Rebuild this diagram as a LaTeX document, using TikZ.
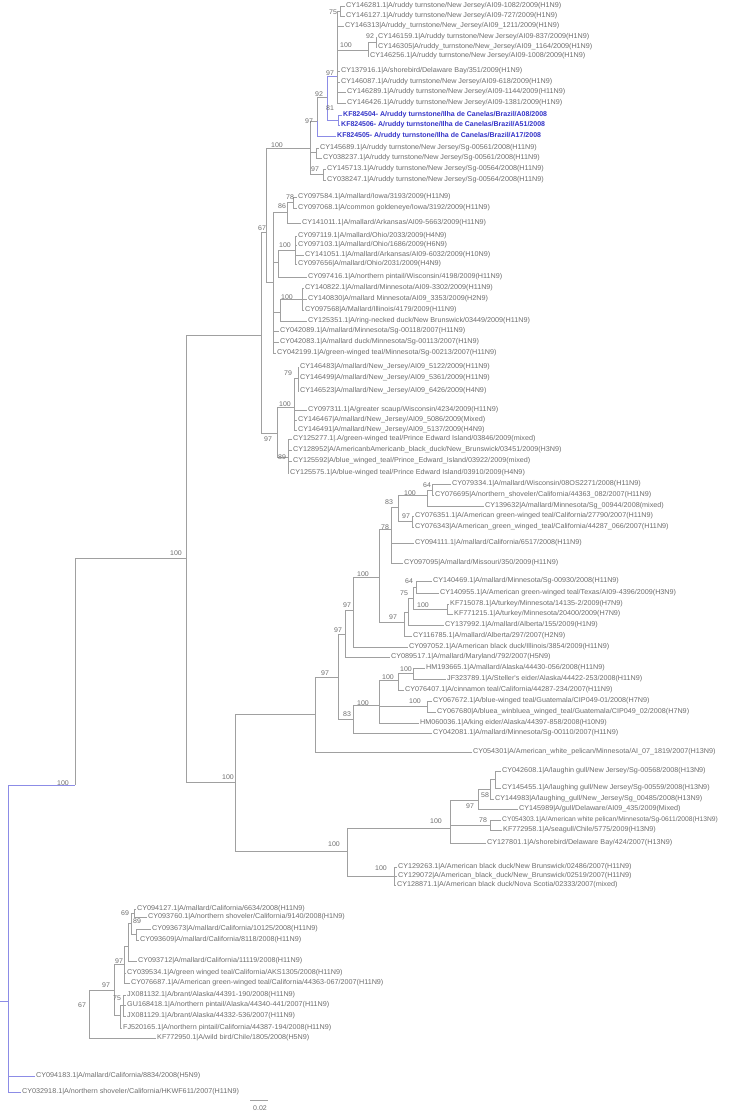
\documentclass[tikz,border=0pt]{standalone}
\usepackage{fontspec}
\setmainfont{Liberation Sans}
\newfontfamily\widesans[FakeStretch=1.03]{Liberation Sans}
\definecolor{brc}{HTML}{A0A0A0}
\definecolor{blc}{HTML}{8C8CE6}
\definecolor{txc}{HTML}{6E6E6E}
\definecolor{bluetxt}{HTML}{3434C8}
\begin{document}
\begin{tikzpicture}[x=1pt,y=-1pt,
  br/.style={draw=brc, line width=0.8pt},
  bb/.style={draw=blc, line width=0.8pt},
  leaf/.style={anchor=west, inner sep=0pt, text=txc, font=\widesans\fontsize{7.0}{8}\selectfont},
  nleaf/.style={anchor=west, inner sep=0pt, text=txc, font=\fontsize{6.7}{8}\selectfont},
  bleaf/.style={anchor=west, inner sep=0pt, text=bluetxt, font=\fontsize{7.0}{8}\selectfont\bfseries},
  bs/.style={inner sep=0pt, text=txc, font=\widesans\fontsize{6.8}{8}\selectfont}]
\useasboundingbox (0,0) rectangle (731,1115);
\fill[white] (0,0) rectangle (731,1115);
% internal nodes
\coordinate (rs) at (0,1001);
\coordinate (root) at (8,1001);
\coordinate (B) at (75,785);
\coordinate (C) at (186,558);
\coordinate (D) at (261,335);
\coordinate (E) at (235,782);
\coordinate (F) at (266,232);
\coordinate (T100) at (310,148);
\coordinate (N97a) at (317,121);
\coordinate (N92) at (327,97);
\coordinate (N97b) at (337,76);
\coordinate (n75) at (340,11);
\coordinate (n100t) at (368,50);
\coordinate (n92b) at (376,42);
\coordinate (N81) at (338,120);
\coordinate (P) at (316,152);
\coordinate (N97c) at (323,174);
\coordinate (G) at (273,282);
\coordinate (n86) at (287,212);
\coordinate (n78a) at (293,202);
\coordinate (H) at (278,262);
\coordinate (nOhio) at (295,250);
\coordinate (n280) at (280,312);
\coordinate (n100m) at (302,299);
\coordinate (n97j) at (277,433);
\coordinate (n100b) at (294,407);
\coordinate (n79) at (298,378);
\coordinate (n89) at (288,457);
\coordinate (M) at (315,714);
\coordinate (Q) at (338,677);
\coordinate (n97k) at (345,634);
\coordinate (n97l) at (353,610);
\coordinate (n100n) at (379,577);
\coordinate (n78b) at (391,529);
\coordinate (n83b) at (398,507);
\coordinate (n100c) at (427,495);
\coordinate (n64a) at (432,490);
\coordinate (n97f) at (412,521);
\coordinate (n404) at (404,622);
\coordinate (n408) at (408,612);
\coordinate (n75m) at (413,598);
\coordinate (n64b) at (416,587);
\coordinate (n100d) at (447,609);
\coordinate (n83) at (353,719);
\coordinate (n379) at (379,705);
\coordinate (n100h) at (398,680);
\coordinate (n100i) at (413,673);
\coordinate (n100j) at (427,706);
\coordinate (n100g) at (347,851);
\coordinate (n100k) at (450,828);
\coordinate (n97g) at (478,800);
\coordinate (n58) at (490,789);
\coordinate (npair) at (495,779);
\coordinate (n78c) at (490,825);
\coordinate (n100l) at (394,876);
\coordinate (n67) at (89,1013);
\coordinate (n97h) at (114,990);
\coordinate (n97i) at (124,964);
\coordinate (ntop) at (128,946);
\coordinate (n69) at (131,923);
\coordinate (n89b) at (134,913);
\coordinate (n137) at (136,934);
\coordinate (n75b) at (120,1015);
\coordinate (n75c) at (123,1005);
% leaves: ruddy turnstone clade
\node[leaf] (t1) at (346,6) {CY146281.1|A/ruddy turnstone/New Jersey/AI09-1082/2009(H1N9)};
\node[leaf] (t2) at (346,16) {CY146127.1|A/ruddy turnstone/New Jersey/AI09-727/2009(H1N9)};
\node[leaf] (t3) at (345,26) {CY146313|A/ruddy\_turnstone/New\_Jersey/AI09\_1211/2009(H1N9)};
\node[leaf] (t4) at (378,37) {CY146159.1|A/ruddy turnstone/New Jersey/AI09-837/2009(H1N9)};
\node[leaf] (t5) at (378,47) {CY146305|A/ruddy\_turnstone/New\_Jersey/AI09\_1164/2009(H1N9)};
\node[leaf] (t6) at (370,56) {CY146256.1|A/ruddy turnstone/New Jersey/AI09-1008/2009(H1N9)};
\node[leaf] (t7) at (341,71) {CY137916.1|A/shorebird/Delaware Bay/351/2009(H1N9)};
\node[leaf] (t8) at (341,82) {CY146087.1|A/ruddy turnstone/New Jersey/AI09-618/2009(H1N9)};
\node[leaf] (t9) at (347,92) {CY146289.1|A/ruddy turnstone/New Jersey/AI09-1144/2009(H11N9)};
\node[leaf] (t10) at (347,103) {CY146426.1|A/ruddy turnstone/New Jersey/AI09-1381/2009(H1N9)};
\node[bleaf] (t11) at (343,115) {KF824504- A/ruddy turnstone/Ilha de Canelas/Brazil/A08/2008};
\node[bleaf] (t12) at (341,125) {KF824506- A/ruddy turnstone/Ilha de Canelas/Brazil/A51/2008};
\node[bleaf] (t13) at (337,136) {KF824505- A/ruddy turnstone/Ilha de Canelas/Brazil/A17/2008};
\node[leaf] (t14) at (320,148) {CY145689.1|A/ruddy turnstone/New Jersey/Sg-00561/2008(H11N9)};
\node[leaf] (t15) at (323,158) {CY038237.1|A/ruddy turnstone/New Jersey/Sg-00561/2008(H11N9)};
\node[leaf] (t16) at (327,169) {CY145713.1|A/ruddy turnstone/New Jersey/Sg-00564/2008(H11N9)};
\node[leaf] (t17) at (327,180) {CY038247.1|A/ruddy turnstone/New Jersey/Sg-00564/2008(H11N9)};
% G group
\node[leaf] (g1) at (298,197) {CY097584.1|A/mallard/Iowa/3193/2009(H11N9)};
\node[leaf] (g2) at (298,208) {CY097068.1|A/common goldeneye/Iowa/3192/2009(H11N9)};
\node[leaf] (g3) at (302,223) {CY141011.1|A/mallard/Arkansas/AI09-5663/2009(H11N9)};
\node[leaf] (g4) at (298,236) {CY097119.1|A/mallard/Ohio/2033/2009(H4N9)};
\node[leaf] (g5) at (298,245) {CY097103.1|A/mallard/Ohio/1686/2009(H6N9)};
\node[leaf] (g6) at (305,255) {CY141051.1|A/mallard/Arkansas/AI09-6032/2009(H10N9)};
\node[leaf] (g7) at (298,264) {CY097656|A/mallard/Ohio/2031/2009(H4N9)};
\node[leaf] (g8) at (308,277) {CY097416.1|A/northern pintail/Wisconsin/4198/2009(H11N9)};
\node[leaf] (g9) at (305,288) {CY140822.1|A/mallard/Minnesota/AI09-3302/2009(H11N9)};
\node[leaf] (g10) at (308,299) {CY140830|A/mallard Minnesota/AI09\_3353/2009(H2N9)};
\node[leaf] (g11) at (305,310) {CY097568|A/Mallard/Illinois/4179/2009(H11N9)};
\node[leaf] (g12) at (308,321) {CY125351.1|A/ring-necked duck/New Brunswick/03449/2009(H11N9)};
\node[leaf] (g13) at (280,331) {CY042089.1|A/mallard/Minnesota/Sg-00118/2007(H11N9)};
\node[leaf] (g14) at (280,342) {CY042083.1|A/mallard duck/Minnesota/Sg-00113/2007(H1N9)};
\node[leaf] (g15) at (277,353) {CY042199.1|A/green-winged teal/Minnesota/Sg-00213/2007(H11N9)};
% NJ group
\node[leaf] (j1) at (300,367) {CY146483|A/mallard/New\_Jersey/AI09\_5122/2009(H11N9)};
\node[leaf] (j2) at (300,378) {CY146499|A/mallard/New\_Jersey/AI09\_5361/2009(H11N9)};
\node[leaf] (j3) at (300,391) {CY146523|A/mallard/New\_Jersey/AI09\_6426/2009(H4N9)};
\node[leaf] (j4) at (308,410) {CY097311.1|A/greater scaup/Wisconsin/4234/2009(H11N9)};
\node[leaf] (j5) at (298,420) {CY146467|A/mallard/New\_Jersey/AI09\_5086/2009(Mixed)};
\node[leaf] (j6) at (298,430) {CY146491|A/mallard/New\_Jersey/AI09\_5137/2009(H4N9)};
\node[leaf] (j7) at (293,439) {CY125277.1|.A/green-winged teal/Prince Edward Island/03846/2009(mixed)};
\node[leaf] (j8) at (293,450) {CY128952|A/AmericanbAmericanb\_black\_duck/New\_Brunswick/03451/2009(H3N9)};
\node[leaf] (j9) at (293,461) {CY125592|A/blue\_winged\_teal/Prince\_Edward\_Island/03922/2009(mixed)};
\node[leaf] (j10) at (290,473) {CY125575.1|A/blue-winged teal/Prince Edward Island/03910/2009(H4N9)};
% middle clade
\node[leaf] (m1) at (452,484) {CY079334.1|A/mallard/Wisconsin/08OS2271/2008(H11N9)};
\node[leaf] (m2) at (435,495) {CY076695|A/northern\_shoveler/California/44363\_082/2007(H11N9)};
\node[leaf] (m3) at (485,506) {CY139632|A/mallard/Minnesota/Sg\_00944/2008(mixed)};
\node[leaf] (m4) at (415,516) {CY076351.1|A/American green-winged teal/California/27790/2007(H11N9)};
\node[leaf] (m5) at (415,527) {CY076343|A/American\_green\_winged\_teal/California/44287\_066/2007(H11N9)};
\node[leaf] (m6) at (415,543) {CY094111.1|A/mallard/California/6517/2008(H11N9)};
\node[leaf] (m7) at (404,563) {CY097095|A/mallard/Missouri/350/2009(H11N9)};
\node[leaf] (m8) at (433,581) {CY140469.1|A/mallard/Minnesota/Sg-00930/2008(H11N9)};
\node[leaf] (m9) at (440,593) {CY140955.1|A/American green-winged teal/Texas/AI09-4396/2009(H3N9)};
\node[leaf] (m10) at (450,604) {KF715078.1|A/turkey/Minnesota/14135-2/2009(H7N9)};
\node[leaf] (m11) at (454,614) {KF771215.1|A/turkey/Minnesota/20400/2009(H7N9)};
\node[leaf] (m12) at (445,625) {CY137992.1|A/mallard/Alberta/155/2009(H1N9)};
\node[leaf] (m13) at (413,636) {CY116785.1|A/mallard/Alberta/297/2007(H2N9)};
\node[leaf] (m14) at (409,647) {CY097052.1|A/American black duck/Illinois/3854/2009(H11N9)};
\node[leaf] (m15) at (391,657) {CY089517.1|A/mallard/Maryland/792/2007(H5N9)};
\node[leaf] (m16) at (426,668) {HM193665.1|A/mallard/Alaska/44430-056/2008(H11N9)};
\node[leaf] (m17) at (447,679) {JF323789.1|A/Steller's eider/Alaska/44422-253/2008(H11N9)};
\node[leaf] (m18) at (405,690) {CY076407.1|A/cinnamon teal/California/44287-234/2007(H11N9)};
\node[leaf] (m19) at (433,701) {CY067672.1|A/blue-winged teal/Guatemala/CIP049-01/2008(H7N9)};
\node[leaf] (m20) at (437,712) {CY067680|A/bluea\_winbluea\_winged\_teal/Guatemala/CIP049\_02/2008(H7N9)};
\node[leaf] (m21) at (420,723) {HM060036.1|A/king eider/Alaska/44397-858/2008(H10N9)};
\node[leaf] (m22) at (433,733) {CY042081.1|A/mallard/Minnesota/Sg-00110/2007(H11N9)};
\node[leaf] (m23) at (473,752) {CY054301|A/American\_white\_pelican/Minnesota/AI\_07\_1819/2007(H13N9)};
% gull clade
\node[leaf] (u1) at (502,771) {CY042608.1|A/laughin gull/New Jersey/Sg-00568/2008(H13N9)};
\node[leaf] (u2) at (502,788) {CY145455.1|A/laughing gull/New Jersey/Sg-00559/2008(H13N9)};
\node[leaf] (u3) at (495,799) {CY144983|A/laughing\_gull/New\_Jersey/Sg\_00485/2008(H13N9)};
\node[leaf] (u4) at (519,809) {CY145989|A/gull/Delaware/AI09\_435/2009(Mixed)};
\node[nleaf] (u5) at (502,820) {CY054303.1|A/American white pelican/Minnesota/Sg-0611/2008(H13N9)};
\node[leaf] (u6) at (503,830) {KF772958.1|A/seagull/Chile/5775/2009(H13N9)};
\node[leaf] (u7) at (487,843) {CY127801.1|A/shorebird/Delaware Bay/424/2007(H13N9)};
\node[leaf] (u8) at (398,867) {CY129263.1|A/American black duck/New Brunswick/02486/2007(H11N9)};
\node[leaf] (u9) at (398,876) {CY129072|A/American\_black\_duck/New\_Brunswick/02519/2007(H11N9)};
\node[leaf] (u10) at (397,885) {CY128871.1|A/American black duck/Nova Scotia/02333/2007(mixed)};
% bottom clade
\node[leaf] (b1) at (137,909) {CY094127.1|A/mallard/California/6634/2008(H11N9)};
\node[leaf] (b2) at (148,917) {CY093760.1|A/northern shoveler/California/9140/2008(H1N9)};
\node[leaf] (b3) at (152,929) {CY093673|A/mallard/California/10125/2008(H11N9)};
\node[leaf] (b4) at (140,940) {CY093609|A/mallard/California/8118/2008(H11N9)};
\node[leaf] (b5) at (138,961) {CY093712|A/mallard/California/11119/2008(H11N9)};
\node[leaf] (b6) at (127,973) {CY039534.1|A/green winged teal/California/AKS1305/2008(H11N9)};
\node[leaf] (b7) at (131,983) {CY076687.1|A/American green-winged teal/California/44363-067/2007(H11N9)};
\node[leaf] (b8) at (127,995) {JX081132.1|A/brant/Alaska/44391-190/2008(H11N9)};
\node[leaf] (b9) at (127,1005) {GU168418.1|A/northern pintail/Alaska/44340-441/2007(H11N9)};
\node[leaf] (b10) at (127,1016) {JX081129.1|A/brant/Alaska/44332-536/2007(H11N9)};
\node[leaf] (b11) at (123,1028) {FJ520165.1|A/northern pintail/California/44387-194/2008(H11N9)};
\node[leaf] (b12) at (157,1038) {KF772950.1|A/wild bird/Chile/1805/2008(H5N9)};
\node[leaf] (b13) at (36,1076) {CY094183.1|A/mallard/California/8834/2008(H5N9)};
\node[leaf] (b14) at (22,1092) {CY032918.1|A/northern shoveler/California/HKWF611/2007(H11N9)};
% internal edges
\foreach \p/\c in {B/C,C/D,C/E,D/F,D/n97j,F/T100,F/G,T100/N97a,T100/P,T100/N97c,
  N97a/N92,N97b/n75,N97b/n100t,n100t/n92b,G/n86,G/H,G/n280,n86/n78a,H/nOhio,n280/n100m,
  n97j/n100b,n97j/n89,n100b/n79,E/M,E/n100g,M/Q,Q/n97k,Q/n83,n97k/n97l,n97l/n100n,
  n100n/n78b,n100n/n404,n78b/n83b,n83b/n100c,n83b/n97f,n100c/n64a,n404/n408,n408/n75m,
  n75m/n64b,n75m/n100d,n83/n379,n379/n100h,n379/n100j,n100h/n100i,n100g/n100k,n100g/n100l,
  n100k/n97g,n100k/n78c,n97g/n58,n58/npair,n67/n97h,n97h/n97i,n97h/n75b,n97i/ntop,
  ntop/n69,n69/n89b,n69/n137,n75b/n75c}
  \draw[br] (\p) |- (\c);
\foreach \p/\c in {N92/N97b,N92/N81}
  \draw[bb] (\p) |- (\c);
\draw[bb] (rs) -- (root);
\draw[bb] (root) |- (B);
% leaf edges
\foreach \p/\c in {n75/t1,n75/t2,N97b/t3,n92b/t4,n92b/t5,n100t/t6,N97b/t7,N97b/t8,N97b/t9,N97b/t10,
  P/t14,P/t15,N97c/t16,N97c/t17,
  n78a/g1,n78a/g2,n86/g3,nOhio/g4,nOhio/g5,nOhio/g6,nOhio/g7,H/g8,n100m/g9,n100m/g10,n100m/g11,
  n280/g12,G/g13,G/g14,G/g15,
  n79/j1,n79/j2,n79/j3,n100b/j4,n100b/j5,n100b/j6,n89/j7,n89/j8,n89/j9,n89/j10,
  n64a/m1,n64a/m2,n100c/m3,n97f/m4,n97f/m5,n78b/m6,n78b/m7,n64b/m8,n64b/m9,n100d/m10,n100d/m11,
  n408/m12,n404/m13,n97l/m14,n97k/m15,n100i/m16,n100i/m17,n100h/m18,n100j/m19,n100j/m20,
  n379/m21,n83/m22,M/m23,
  npair/u1,npair/u2,n58/u3,n97g/u4,n78c/u5,n78c/u6,n100k/u7,n100l/u8,n100l/u9,n100l/u10,
  n89b/b1,n89b/b2,n137/b3,n137/b4,ntop/b5,n97i/b6,n97i/b7,n75c/b8,n75c/b9,n75c/b10,n75b/b11,n67/b12}
  \draw[br] (\p) |- ([xshift=-1pt]\c.west);
\foreach \p/\c in {N81/t11,N81/t12,N97a/t13}
  \draw[bb] (\p) |- ([xshift=-1pt]\c.west);
\foreach \c in {b13,b14}
  \draw[bb] (root) |- ([xshift=-1pt]\c.west);
% bootstrap values
\node[bs] (s1) at (333,12) {75};
\node[bs] (s2) at (370,36) {92};
\node[bs] (s3) at (346,45) {100};
\node[bs] (s4) at (330,73) {97};
\node[bs] (s5) at (319,94) {92};
\node[bs] (s6) at (330,108) {81};
\node[bs] (s7) at (309,121) {97};
\node[bs] (s8) at (277,145) {100};
\node[bs] (s9) at (315,169) {97};
\node[bs] (s10) at (290,197) {78};
\node[bs] (s11) at (282,206) {86};
\node[bs] (s12) at (262,228) {67};
\node[bs] (s13) at (285,245) {100};
\node[bs] (s14) at (287,297) {100};
\node[bs] (s15) at (288,373) {79};
\node[bs] (s16) at (285,404) {100};
\node[bs] (s17) at (268,439) {97};
\node[bs] (s18) at (282,457) {89};
\node[bs] (s19) at (427,485) {64};
\node[bs] (s20) at (410,493) {100};
\node[bs] (s21) at (389,502) {83};
\node[bs] (s22) at (406,516) {97};
\node[bs] (s23) at (385,527) {78};
\node[bs] (s24) at (363,574) {100};
\node[bs] (s25) at (409,581) {64};
\node[bs] (s26) at (404,593) {75};
\node[bs] (s27) at (423,605) {100};
\node[bs] (s28) at (347,605) {97};
\node[bs] (s29) at (393,617) {97};
\node[bs] (s30) at (338,630) {97};
\node[bs] (s31) at (406,669) {100};
\node[bs] (s32) at (388,677) {100};
\node[bs] (s33) at (325,673) {97};
\node[bs] (s34) at (415,701) {100};
\node[bs] (s35) at (363,703) {100};
\node[bs] (s36) at (347,714) {83};
\node[bs] (s37) at (485,795) {58};
\node[bs] (s38) at (470,806) {97};
\node[bs] (s39) at (436,821) {100};
\node[bs] (s40) at (483,820) {78};
\node[bs] (s41) at (334,844) {100};
\node[bs] (s42) at (381,868) {100};
\node[bs] (s43) at (63,783) {100};
\node[bs] (s44) at (228,777) {100};
\node[bs] (s45) at (125,913) {69};
\node[bs] (s46) at (137,921) {89};
\node[bs] (s47) at (119,961) {97};
\node[bs] (s48) at (106,985) {97};
\node[bs] (s49) at (117,998) {75};
\node[bs] (s50) at (82,1005) {67};
\node[bs] (s51) at (176,553) {100};
% scale bar
\coordinate (sb1) at (250,1100);
\coordinate (sb2) at (268,1100);
\draw[br] (sb1) -- (sb2);
\node[bs] (sbl) at (260,1108) {0.02};
\end{tikzpicture}
\end{document}
